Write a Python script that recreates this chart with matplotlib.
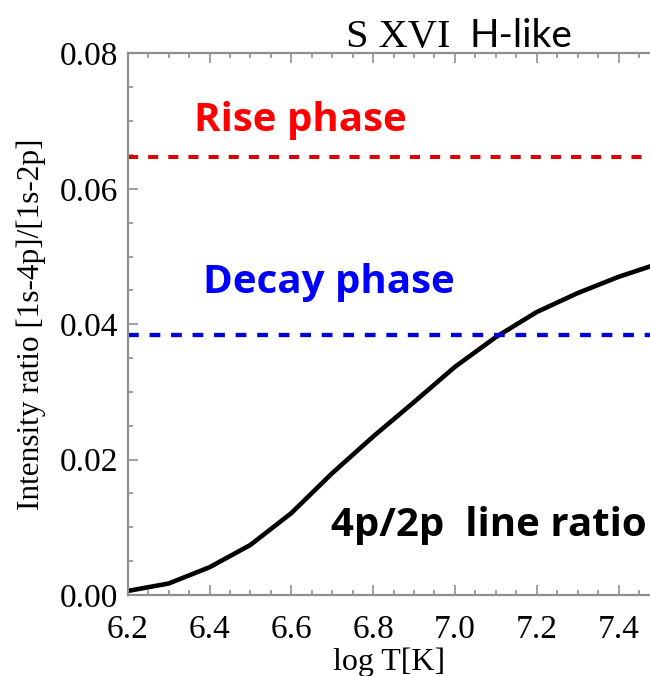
import matplotlib

matplotlib.use("Agg")
import matplotlib.pyplot as plt
from matplotlib.ticker import MultipleLocator

# S XVI 4p/2p line ratio vs temperature
log_t = [6.2, 6.3, 6.4, 6.5, 6.6, 6.7, 6.8, 6.9, 7.0, 7.1, 7.2, 7.3, 7.4, 7.5]
ratio = [0.0006, 0.0017, 0.0041, 0.0074, 0.0121, 0.0180, 0.0234, 0.0285,
         0.0337, 0.0381, 0.0418, 0.0446, 0.0470, 0.0490]

rise_ratio = 0.0647
decay_ratio = 0.0384

x_ticks = [6.2, 6.4, 6.6, 6.8, 7.0, 7.2, 7.4]
y_ticks = [0.00, 0.02, 0.04, 0.06, 0.08]

SERIF = "Liberation Serif"
SANS = "Open Sans"
GREY = "#909090"

fig = plt.figure(figsize=(6.5, 6.76), dpi=100)
ax = fig.add_axes([0.1965, 0.1198, 0.8035, 0.8011])

ax.plot(log_t, ratio, color="black", lw=3.3, solid_capstyle="butt")
ax.axhline(rise_ratio, color="#dd0000", lw=2.9, dashes=(2.5, 2.5))
ax.axhline(decay_ratio, color="#0000dd", lw=3.1, dashes=(2.5, 2.5))

ax.set_xlim(6.2, 7.477)
ax.set_ylim(0.0, 0.08)
ax.set_xticks(x_ticks)
ax.set_xticklabels([f"{v:.1f}" for v in x_ticks])
ax.set_yticks(y_ticks)
ax.set_yticklabels([f"{v:.2f}" for v in y_ticks])
ax.xaxis.set_minor_locator(MultipleLocator(0.05))
ax.yaxis.set_minor_locator(MultipleLocator(0.005))

# IDL-style inward ticks, grey axes
ax.spines["right"].set_visible(False)
for side in ("left", "bottom", "top"):
    ax.spines[side].set_color(GREY)
    ax.spines[side].set_linewidth(1.6)
ax.tick_params(which="both", direction="in", top=True, right=False,
               color=GREY, width=1.2)
ax.tick_params(which="major", length=7.2)
ax.tick_params(which="minor", length=3.8)
ax.tick_params(axis="x", which="major", pad=14, labelsize=24)
ax.tick_params(axis="y", which="major", pad=7, labelsize=24)
for lab in ax.get_xticklabels() + ax.get_yticklabels():
    lab.set_fontfamily(SERIF)

ax.set_xlabel("log T[K]", fontfamily=SERIF, fontsize=23, labelpad=2)
ax.set_ylabel("Intensity ratio [1s-4p]/[1s-2p]", fontfamily=SERIF,
              fontsize=22.5, labelpad=10)

# annotations
ax.text(6.362, 0.0686, "Rise phase", color="#ff0000", fontsize=29,
        fontweight="bold", fontfamily=SANS, va="baseline")
ax.text(6.384, 0.0446, "Decay phase", color="#0000ff", fontsize=29,
        fontweight="bold", fontfamily=SANS, va="baseline")
ax.text(6.697, 0.0087, "4p/2p  line ratio", color="black", fontsize=29,
        fontweight="bold", fontfamily=SANS, va="baseline")

# title: serif ion name + sans label
ax.text(6.734, 0.0809, "S XVI", fontsize=29, fontfamily=SERIF,
        va="baseline", clip_on=False)
ax.text(7.035, 0.0809, "H-like", fontsize=28, fontfamily="Lato",
        va="baseline", clip_on=False)

fig.savefig("out.png", dpi=100)
